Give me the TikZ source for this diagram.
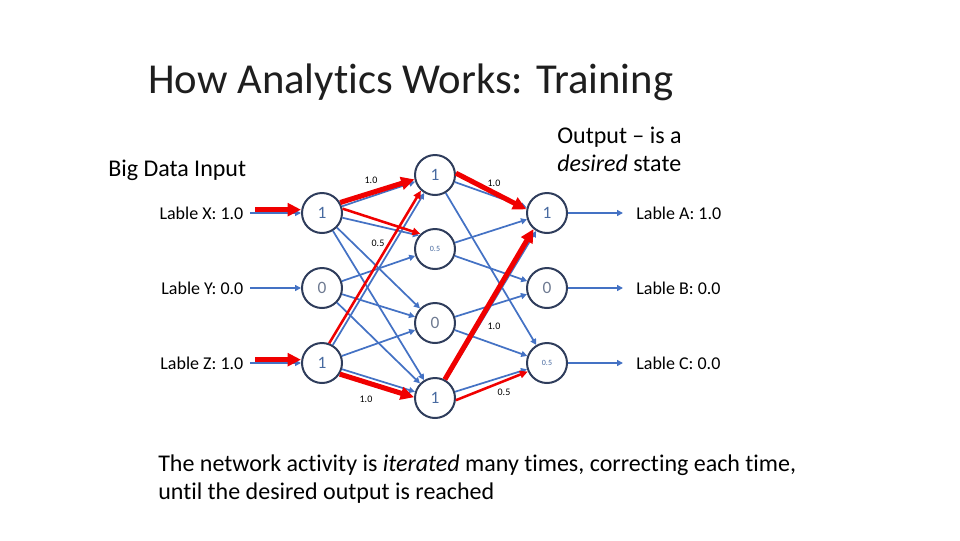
\documentclass[tikz,border=0pt]{standalone}
\usepackage{fontspec}
\setmainfont{Carlito}[Ligatures=NoCommon]
\usepackage{tikz}
\usetikzlibrary{arrows.meta}
\usetikzlibrary{calc}
\usetikzlibrary{positioning}
\definecolor{nodeline}{RGB}{47,61,92}
\definecolor{nodetext}{RGB}{72,106,160}
\definecolor{zerotext}{RGB}{110,122,145}
\definecolor{edgeblue}{RGB}{68,114,196}
\definecolor{arrowred}{RGB}{240,0,0}
\definecolor{titlegray}{RGB}{30,30,30}

\begin{document}
\begin{tikzpicture}[x=0.75pt, y=-0.75pt,
    neuron/.style={draw=nodeline, line width=1.5pt, circle, minimum size=30pt, inner sep=0pt, text=nodetext, font=\fontsize{13}{13}\selectfont},
    edge/.style={draw=edgeblue, line width=1.3pt, -{Triangle[length=4.5pt,width=4.5pt]}},
    redthick/.style={draw=arrowred, line width=3.8pt, -{Triangle[length=10pt,width=9.5pt]}},
    redthin/.style={draw=arrowred, line width=1.9pt, -{Triangle[length=6pt,width=5.5pt]}},
    weight/.style={font=\fontsize{7.5}{7.5}\selectfont, inner sep=0pt},
    lableL/.style={font=\fontsize{13.5}{13.5}\selectfont, inner sep=0pt, outer sep=5pt, anchor=east},
    lableR/.style={font=\fontsize{13.5}{13.5}\selectfont, inner sep=0pt, outer sep=10pt, anchor=west}]

            \useasboundingbox (0,0) rectangle (960,540);

            % texts
            \draw (148,93) node[anchor=base west, inner sep=0pt, text=titlegray, font=\fontsize{32}{32}\selectfont] (title) {How Analytics Works: Training};
            \draw (108,170) node[anchor=west, inner sep=0pt, font=\fontsize{18}{18}\selectfont] (bigdata) {Big Data Input};
            \draw (557,149) node[anchor=west, inner sep=0pt, align=left, font=\fontsize{18}{21}\selectfont] (outtext) {Output -- is a\\\textit{desired} state};
            \draw (158,479) node[anchor=west, inner sep=0pt, align=left, font=\fontsize{18}{21}\selectfont] (note) {The network activity is \textit{iterated} many times, correcting each time,\\until the desired output is reached};

            % neurons
            \draw (322,213) node[neuron]                                  (I1) {1};
            \draw (322,288) node[neuron, text=zerotext]                   (I2) {0};
            \draw (322,363) node[neuron]                                  (I3) {1};
            \draw (435,175) node[neuron]                                  (H1) {1};
            \draw (435,249) node[neuron, font=\fontsize{6}{6}\selectfont] (H2) {0.5};
            \draw (435,323) node[neuron, text=zerotext]                   (H3) {0};
            \draw (435,398) node[neuron]                                  (H4) {1};
            \draw (547,213) node[neuron]                                  (O1) {1};
            \draw (547,288) node[neuron, text=zerotext]                   (O2) {0};
            \draw (547,363) node[neuron, font=\fontsize{6}{6}\selectfont] (O3) {0.5};

            % labels
            \draw (250,213) node[lableL] (LX) {Lable X: 1.0};
            \draw (250,288) node[lableL] (LY) {Lable Y: 0.0};
            \draw (250,363) node[lableL] (LZ) {Lable Z: 1.0};
            \draw (623,213) node[lableR] (LA) {Lable A: 1.0};
            \draw (623,288) node[lableR] (LB) {Lable B: 0.0};
            \draw (623,363) node[lableR] (LC) {Lable C: 0.0};

            % weights
            \draw (371,180) node[weight] (w1) {1.0};
            \draw (378,243) node[weight] (w2) {0.5};
            \draw (494,183) node[weight] (w3) {1.0};
            \draw (494,326) node[weight] (w4) {1.0};
            \draw (366,399) node[weight] (w5) {1.0};
            \draw (504,392) node[weight] (w6) {0.5};

            % blue connections
            \draw[edge] (LX) -- (I1);
            \draw[edge] (LY) -- (I2);
            \draw[edge] (LZ) -- (I3);
            \draw[edge] (I1) -- (H1);
            \draw[edge] (I1) -- (H2.140);
            \draw[edge] (I1) -- (H3);
            \draw[edge] (I1) -- (H4);
            \draw[edge] (I2) -- (H2);
            \draw[edge] (I2) -- (H3);
            \draw[edge] (I2) -- (H4);
            \draw[edge] (I3) -- (H1);
            \draw[edge] (I3) -- (H3);
            \draw[edge] (I3) -- (H4);
            \draw[edge] (H1) -- (O1.165);
            \draw[edge] (H1) -- (O3);
            \draw[edge] (H2) -- (O1);
            \draw[edge] (H2) -- (O2);
            \draw[edge] (H3) -- (O2);
            \draw[edge] (H3) -- (O3);
            \draw[edge] (H4) -- (O1);
            \draw[edge] (H4) -- (O3);
            \draw[edge] (O1) -- (LA);
            \draw[edge] (O2) -- (LB);
            \draw[edge] (O3) -- (LC);

            % red corrections
            \draw[redthick] ([xshift=4pt,yshift=2.5pt]LX.east) -- ([yshift=2.5pt]I1.west);
            \draw[redthick] ([xshift=4pt,yshift=2.5pt]LZ.east) -- ([yshift=2.5pt]I3.west);
            \draw[redthick] (I1.30) -- (H1.192);
            \draw[redthin] (I1.12) -- (H2.134);
            \draw[redthin] (I3.70) -- (H1.228);
            \draw[redthick] (I3.-32) -- (H4.178);
            \draw[redthick] (H1.5) -- (O1.170);
            \draw[redthick] (H4.62) -- (O1.230);
            \draw[redthin] (H4.-6) -- (O3.204);

\end{tikzpicture}
\end{document}
